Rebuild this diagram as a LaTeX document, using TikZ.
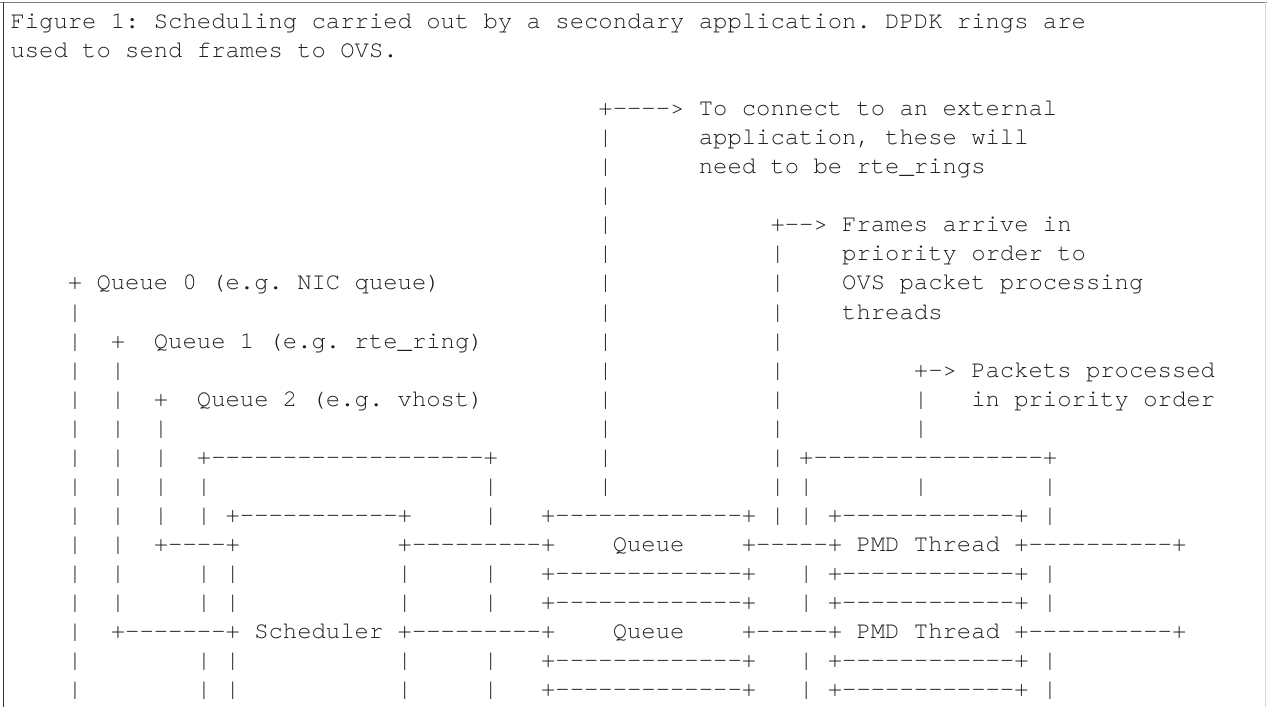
\documentclass[tikz,border=0pt]{standalone}
\usepackage{fontspec}
\setmonofont{TeX Gyre Cursor}
\definecolor{asciiink}{RGB}{30,30,30}
\definecolor{framegray}{RGB}{125,125,125}
\definecolor{framelight}{RGB}{215,215,215}
\tikzset{ascii/.style={anchor=base west,inner sep=0pt,outer sep=0pt,text=asciiink,
    font=\ttfamily\fontsize{23.9bp}{29bp}\selectfont\frenchspacing}}
% one run of characters at (row, column) of the text grid
\newcommand{\txtat}[3]{\node[ascii] (r#1c#2) at ({10.5+14.34*#2},{28.5+29.05*(#1-1)}) {#3};}

\begin{document}
\begin{tikzpicture}[x=1bp,y=-1bp]
\useasboundingbox (0,0) rectangle (1267,707);
% frame of the text block
\draw[framegray,line width=1bp] (0,2.5)--(1267,2.5);
\draw[black!80,line width=1.2bp] (3.5,2.5)--(3.5,707);
\draw[framelight,line width=1bp] (1265.5,2.5)--(1265.5,707);
% ---------------- caption ----------------
\txtat{1}{0}{Figure 1: Scheduling carried out by a secondary application. DPDK rings are}
\txtat{2}{0}{used to send frames to OVS.}
% ---------------- notes on the right ----------------
\txtat{4}{41}{+----> To connect to an external}
\txtat{5}{48}{application, these will}
\txtat{6}{48}{need to be rte\_rings}
\foreach \r in {5,...,17} {\txtat{\r}{41}{|}}
\txtat{8}{53}{+--> Frames arrive in}
\txtat{9}{58}{priority order to}
\txtat{10}{58}{OVS packet processing}
\txtat{11}{58}{threads}
\foreach \r in {9,...,15,17} {\txtat{\r}{53}{|}}
\txtat{13}{63}{+-> Packets processed}
\txtat{14}{67}{in priority order}
\foreach \r in {14,15,17} {\txtat{\r}{63}{|}}
% ---------------- input queues ----------------
\txtat{10}{4}{+ Queue 0 (e.g. NIC queue)}
\foreach \r in {11,...,24} {\txtat{\r}{4}{|}}
\txtat{12}{7}{+}
\txtat{12}{10}{Queue 1 (e.g. rte\_ring)}
\foreach \r in {13,...,21} {\txtat{\r}{7}{|}}
\txtat{14}{10}{+}
\txtat{14}{13}{Queue 2 (e.g. vhost)}
\foreach \r in {15,...,18} {\txtat{\r}{10}{|}}
% ---------------- scheduler ----------------
\txtat{16}{13}{+-------------------+}
\foreach \r in {17,18,20,21,23,24} {\txtat{\r}{13}{|}}
\foreach \r in {17,18,20,21,23,24} {\txtat{\r}{33}{|}}
\txtat{18}{15}{+-----------+}
\foreach \r in {20,21,23,24} {\txtat{\r}{15}{|}}
\foreach \r in {20,21,23,24} {\txtat{\r}{27}{|}}
\txtat{19}{10}{+----+}
\txtat{19}{27}{+---------+}
\txtat{22}{7}{+-------+ Scheduler +---------+}
% ---------------- queues and PMD threads ----------------
\txtat{16}{53}{| +----------------+}
\txtat{17}{55}{|}
\txtat{17}{72}{|}
\txtat{18}{37}{+-------------+ | | +------------+ |}
\txtat{19}{42}{Queue}
\txtat{19}{51}{+-----+ PMD Thread +----------+}
\foreach \r in {20,21,23,24} {
  \txtat{\r}{37}{+-------------+}
  \txtat{\r}{55}{| +------------+ |}
}
\txtat{22}{42}{Queue}
\txtat{22}{51}{+-----+ PMD Thread +----------+}
\end{tikzpicture}
\end{document}
